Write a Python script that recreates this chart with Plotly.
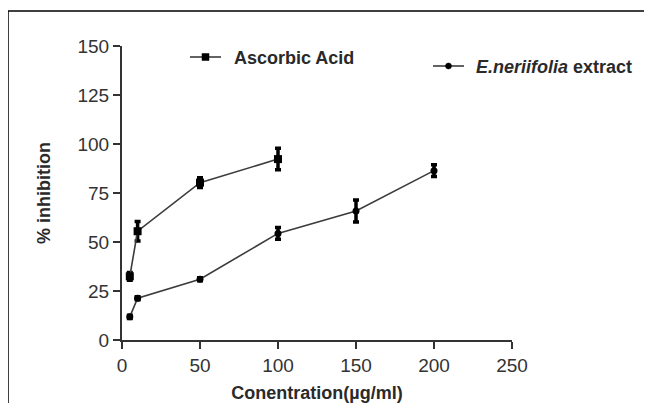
import plotly.graph_objects as go

# Data
conc_aa = [5, 10, 50, 100]
inhib_aa = [32.5, 55.5, 80.3, 92.3]
err_aa = [2.0, 5.0, 2.5, 5.5]

conc_en = [5, 10, 50, 100, 150, 200]
inhib_en = [11.8, 21.3, 31.0, 54.4, 65.8, 86.4]
err_en = [0.8, 0.8, 0.8, 3.0, 5.6, 3.0]

x_ticks = [0, 50, 100, 150, 200, 250]
y_ticks = [0, 25, 50, 75, 100, 125, 150]

OFF = 8  # page body margin (on every side)
W, H = 652 - 2 * OFF, 411 - 2 * OFF
PL, PT, PW, PH = 122, 46, 390, 294  # plot area in screen pixels
L, T = PL - OFF, PT - OFF
R = W - L - PW
B = H - T - PH

def px(x):
    return (x - PL) / PW

def py(y):
    return (PT + PH - y) / PH

FONT = "Liberation Sans, Arial, sans-serif"
LINE_COL = "#3c3c3c"

fig = go.Figure()
fig.add_trace(go.Scatter(
    x=conc_aa, y=inhib_aa, mode="lines+markers", name="Ascorbic Acid",
    line=dict(color=LINE_COL, width=1.6),
    marker=dict(symbol="square", size=8, color="black"),
    error_y=dict(type="data", array=err_aa, color="black", thickness=3.5, width=3),
    showlegend=False,
))
fig.add_trace(go.Scatter(
    x=conc_en, y=inhib_en, mode="lines+markers", name="E.neriifolia extract",
    line=dict(color=LINE_COL, width=1.6),
    marker=dict(symbol="circle", size=7, color="black"),
    error_y=dict(type="data", array=err_en, color="black", thickness=3.5, width=3),
    showlegend=False,
))

shapes = []
annotations = []
# outer frame: only the left and top edges are inside the picture
shapes.append(dict(type="line", xref="paper", yref="paper",
                   x0=px(8), x1=px(8), y0=py(11), y1=py(420),
                   line=dict(color="black", width=1.5)))
shapes.append(dict(type="line", xref="paper", yref="paper",
                   x0=px(8), x1=px(660), y0=py(11), y1=py(11),
                   line=dict(color="black", width=1.5)))

# manual legend
def legend_item(x0, x1, y, symbol, text, tx):
    shapes.append(dict(type="line", xref="paper", yref="paper",
                       x0=px(x0), x1=px(x1), y0=py(y), y1=py(y),
                       line=dict(color=LINE_COL, width=1.6)))
    cx = (x0 + x1) / 2
    r = 3.5 if symbol == "rect" else 3
    shapes.append(dict(type=symbol, xref="paper", yref="paper",
                       x0=px(cx - r), x1=px(cx + r), y0=py(y - r), y1=py(y + r),
                       line=dict(color="black", width=0.5), fillcolor="black"))
    annotations.append(dict(xref="paper", yref="paper", x=px(tx), y=py(y + 1),
                            xanchor="left", yanchor="middle", showarrow=False,
                            text=text, font=dict(family=FONT, size=18, color="#2a2a2a")))

legend_item(190, 221, 57, "rect", "<b>Ascorbic Acid</b>", 232)
legend_item(433, 464, 66, "circle", "<b><i>E.neriifolia</i> extract</b>", 474)

fig.update_layout(
    width=W, height=H,
    margin=dict(l=L, r=R, t=T, b=B, autoexpand=False),
    paper_bgcolor="white", plot_bgcolor="white",
    shapes=shapes, annotations=annotations,
    font=dict(family=FONT, color="#333333"),
)
fig.update_xaxes(
    range=[0, 250], tickvals=x_ticks, ticktext=[str(v) for v in x_ticks],
    showgrid=False, zeroline=False, showline=True, linecolor="#333333", linewidth=2,
    ticks="outside", ticklen=7, tickwidth=2, tickcolor="#333333",
    tickfont=dict(family=FONT, size=19, color="#333333"),
    title=dict(text="<b>Conentration(µg/ml)</b>", font=dict(family=FONT, size=18, color="#2a2a2a"), standoff=14),
)
fig.update_yaxes(
    range=[0, 150], tickvals=y_ticks, ticktext=[str(v) for v in y_ticks],
    showgrid=False, zeroline=False, showline=True, linecolor="#333333", linewidth=2,
    ticks="outside", ticklen=7, tickwidth=2, tickcolor="#333333",
    tickfont=dict(family=FONT, size=19, color="#333333"),
    title=dict(text="<b>% inhibition</b>", font=dict(family=FONT, size=18, color="#2a2a2a"), standoff=22),
)

fig.write_html("out.html")
